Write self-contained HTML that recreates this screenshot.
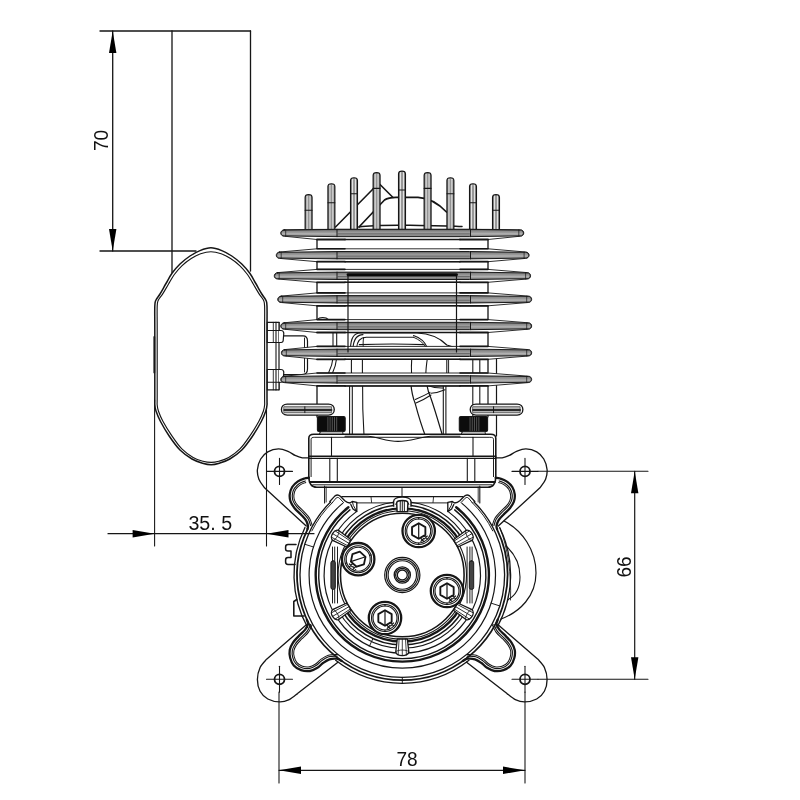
<!DOCTYPE html>
<html><head><meta charset="utf-8"><title>Engine drawing</title>
<style>
html,body{margin:0;padding:0;background:#fff;}
body{width:800px;height:800px;overflow:hidden;}
svg{display:block;font-family:"Liberation Sans",sans-serif;}
</style></head>
<body>
<svg width="800" height="800" viewBox="0 0 800 800" stroke-linecap="round" stroke-linejoin="round">
<rect x="0" y="0" width="800" height="800" fill="#fff"/>
<line x1="100.00" y1="31.00" x2="250.50" y2="31.00" stroke="#161616" stroke-width="1.32" />
<line x1="172.00" y1="31.00" x2="172.00" y2="272.50" stroke="#161616" stroke-width="1.32" />
<line x1="250.50" y1="31.00" x2="250.50" y2="271.00" stroke="#161616" stroke-width="1.32" />
<line x1="112.70" y1="31.00" x2="112.70" y2="251.00" stroke="#161616" stroke-width="1.32" />
<line x1="100.00" y1="251.00" x2="196.00" y2="251.00" stroke="#161616" stroke-width="1.32" />
<polygon points="112.70,31.00 116.40,53.00 109.00,53.00" fill="#000"/>
<polygon points="112.70,251.00 109.00,229.00 116.40,229.00" fill="#000"/>
<g filter="url(#gs)"><text transform="translate(108.00,140.50) rotate(-90) scale(0.93,1)" x="0" y="0" font-size="20.5" text-anchor="middle" fill="#111">70</text></g>
<path d="M154.80,330.00 C154.80,315.17 154.60,311.00 154.80,306.00 C155.00,301.00 155.13,302.00 156.00,300.00 C156.87,298.00 158.33,296.75 160.00,294.00 C161.67,291.25 164.00,286.95 166.00,283.50 C168.00,280.05 169.67,276.55 172.00,273.30 C174.33,270.05 177.00,266.88 180.00,264.00 C183.00,261.12 186.67,258.23 190.00,256.00 C193.33,253.77 196.52,251.97 200.00,250.60 C203.48,249.23 207.27,247.80 210.90,247.80 C214.53,247.80 218.32,249.23 221.80,250.60 C225.28,251.97 228.47,253.77 231.80,256.00 C235.13,258.23 238.80,261.12 241.80,264.00 C244.80,266.88 247.47,270.05 249.80,273.30 C252.13,276.55 253.80,280.05 255.80,283.50 C257.80,286.95 260.13,291.25 261.80,294.00 C263.47,296.75 264.93,298.00 265.80,300.00 C266.67,302.00 266.80,301.00 267.00,306.00 C267.20,311.00 267.00,315.17 267.00,330.00 C267.00,344.83 267.00,382.50 267.00,395.00 C267.00,407.50 267.20,402.33 267.00,405.00 C266.80,407.67 266.75,408.25 265.80,411.00 C264.85,413.75 263.55,417.25 261.30,421.50 C259.05,425.75 255.55,431.75 252.30,436.50 C249.05,441.25 245.55,446.25 241.80,450.00 C238.05,453.75 233.55,456.80 229.80,459.00 C226.05,461.20 222.40,462.25 219.30,463.20 C216.20,464.15 214.00,464.70 211.20,464.70 C208.40,464.70 205.70,464.15 202.50,463.20 C199.30,462.25 195.75,461.20 192.00,459.00 C188.25,456.80 183.75,453.75 180.00,450.00 C176.25,446.25 172.75,441.25 169.50,436.50 C166.25,431.75 162.75,425.75 160.50,421.50 C158.25,417.25 156.95,413.75 156.00,411.00 C155.05,408.25 155.00,407.67 154.80,405.00 C154.60,402.33 154.80,407.50 154.80,395.00 C154.80,382.50 154.80,344.83 154.80,330.00 Z" stroke="#161616" stroke-width="1.50" fill="#fff" />
<line x1="154.30" y1="337.00" x2="154.30" y2="372.50" stroke="#161616" stroke-width="1.80" />
<path d="M157.20,330.00 C157.20,315.17 157.00,310.99 157.20,306.00 C157.40,301.01 157.53,302.02 158.40,300.08 C159.27,298.14 160.73,297.00 162.40,294.36 C164.07,291.73 166.41,287.60 168.40,284.29 C170.39,280.99 172.09,277.60 174.33,274.52 C176.58,271.44 179.03,268.46 181.85,265.79 C184.67,263.12 188.12,260.50 191.25,258.51 C194.39,256.51 197.38,254.94 200.65,253.82 C203.93,252.70 207.48,251.80 210.90,251.80 C214.32,251.80 217.87,252.70 221.15,253.82 C224.42,254.94 227.41,256.51 230.55,258.51 C233.68,260.50 237.13,263.12 239.95,265.79 C242.77,268.46 245.22,271.44 247.47,274.52 C249.71,277.60 251.41,280.99 253.40,284.29 C255.39,287.60 257.73,291.73 259.40,294.36 C261.07,297.00 262.53,298.14 263.40,300.08 C264.27,302.02 264.40,301.01 264.60,306.00 C264.80,310.99 264.60,315.17 264.60,330.00 C264.60,344.83 264.60,382.50 264.60,395.00 C264.60,407.50 264.80,402.34 264.60,405.00 C264.40,407.66 264.35,408.24 263.40,410.95 C262.45,413.67 261.15,417.11 258.90,421.27 C256.65,425.43 253.06,431.28 249.90,435.90 C246.74,440.52 243.49,445.37 239.95,448.97 C236.41,452.57 232.19,455.43 228.67,457.48 C225.14,459.52 221.71,460.42 218.80,461.25 C215.89,462.07 213.83,462.41 211.20,462.41 C208.57,462.41 206.01,462.07 203.00,461.25 C199.99,460.42 196.66,459.52 193.13,457.48 C189.61,455.43 185.39,452.57 181.85,448.97 C178.31,445.37 175.06,440.52 171.90,435.90 C168.74,431.28 165.15,425.43 162.90,421.27 C160.65,417.11 159.35,413.67 158.40,410.95 C157.45,408.24 157.40,407.66 157.20,405.00 C157.00,402.34 157.20,407.50 157.20,395.00 C157.20,382.50 157.20,344.83 157.20,330.00 Z" stroke="#161616" stroke-width="1.14" fill="none" />
<line x1="276.00" y1="322.30" x2="276.00" y2="389.80" stroke="#161616" stroke-width="1.08" />
<line x1="279.00" y1="322.30" x2="279.00" y2="389.80" stroke="#161616" stroke-width="1.20" />
<path d="M267.3,322.3 L279,322.3 L279,342.5 L267.3,342.5 Z" stroke="#161616" stroke-width="1.20" fill="#fff" />
<line x1="267.30" y1="330.50" x2="279.00" y2="330.50" stroke="#161616" stroke-width="1.08" />
<line x1="276.00" y1="322.30" x2="276.00" y2="342.50" stroke="#161616" stroke-width="1.08" />
<line x1="273.30" y1="322.30" x2="273.30" y2="342.50" stroke="#161616" stroke-width="0.84" />
<path d="M279,330.5 L281,330.5 C284,330.5 284,333.5 283.6,335.5 L283.2,340.5 C283,342.5 282,342.5 279,342.5" stroke="#161616" stroke-width="1.20" fill="#fff" />
<path d="M267.3,369.5 L279,369.5 L279,389.8 L267.3,389.8 Z" stroke="#161616" stroke-width="1.20" fill="#fff" />
<line x1="267.30" y1="382.30" x2="279.00" y2="382.30" stroke="#161616" stroke-width="1.08" />
<line x1="276.00" y1="369.50" x2="276.00" y2="389.80" stroke="#161616" stroke-width="1.08" />
<line x1="273.30" y1="369.50" x2="273.30" y2="389.80" stroke="#161616" stroke-width="0.84" />
<path d="M279,369.5 L281,369.5 C284,369.5 284,372.5 283.6,374.5 L283.2,380.3 C283,382.3 282,382.3 279,382.3" stroke="#161616" stroke-width="1.20" fill="#fff" />
<path d="M359,227 L384.5,200 C388,197.5 392,197.3 396,197.3 L418,197.3 C430,198 440,205 446.5,212" stroke="#161616" stroke-width="1.68" fill="none" />
<path d="M335.5,227 L374,188" stroke="#161616" stroke-width="1.56" fill="none" />
<path d="M380,184.5 L393,197.5" stroke="#161616" stroke-width="1.56" fill="none" />
<path d="M359,227 C372,225 392,225.1 410,225.3 C430,225.5 450,225.5 462,226.5" stroke="#161616" stroke-width="1.50" fill="none" />
<defs><filter id="gs" x="-20%" y="-20%" width="140%" height="140%" color-interpolation-filters="sRGB"><feColorMatrix type="saturate" values="0"/></filter><linearGradient id="pg" x1="0" x2="1" y1="0" y2="0"><stop offset="0" stop-color="#555"/><stop offset="0.15" stop-color="#9c9c9c"/><stop offset="0.5" stop-color="#c6c6c6"/><stop offset="0.85" stop-color="#9c9c9c"/><stop offset="1" stop-color="#555"/></linearGradient><linearGradient id="fg" x1="0" x2="0" y1="0" y2="1"><stop offset="0" stop-color="#4a4a4a"/><stop offset="0.2" stop-color="#868686"/><stop offset="0.45" stop-color="#9c9c9c"/><stop offset="0.62" stop-color="#b4b4b4"/><stop offset="0.84" stop-color="#8c8c8c"/><stop offset="1" stop-color="#4a4a4a"/></linearGradient></defs>
<path d="M305.15000000000003,230.5 L305.15000000000003,197.4 C305.15000000000003,193.6 312.05,193.6 312.05,197.4 L312.05,230.5 Z" stroke="#161616" stroke-width="1.20" fill="#939393" />
<line x1="307.15" y1="196.00" x2="307.15" y2="230.50" stroke="#e6e6e6" stroke-width="1.02" />
<line x1="310.05" y1="196.00" x2="310.05" y2="230.50" stroke="#e6e6e6" stroke-width="1.02" />
<line x1="305.15" y1="210.20" x2="312.05" y2="210.20" stroke="#161616" stroke-width="1.08" />
<path d="M327.95,230.5 L327.95,186.6 C327.95,182.79999999999998 334.84999999999997,182.79999999999998 334.84999999999997,186.6 L334.84999999999997,230.5 Z" stroke="#161616" stroke-width="1.20" fill="#939393" />
<line x1="329.95" y1="185.20" x2="329.95" y2="230.50" stroke="#e6e6e6" stroke-width="1.02" />
<line x1="332.85" y1="185.20" x2="332.85" y2="230.50" stroke="#e6e6e6" stroke-width="1.02" />
<line x1="327.95" y1="202.80" x2="334.85" y2="202.80" stroke="#161616" stroke-width="1.08" />
<path d="M350.55,230.5 L350.55,180.6 C350.55,176.79999999999998 357.45,176.79999999999998 357.45,180.6 L357.45,230.5 Z" stroke="#161616" stroke-width="1.20" fill="#939393" />
<line x1="352.55" y1="179.20" x2="352.55" y2="230.50" stroke="#e6e6e6" stroke-width="1.02" />
<line x1="355.45" y1="179.20" x2="355.45" y2="230.50" stroke="#e6e6e6" stroke-width="1.02" />
<line x1="350.55" y1="193.80" x2="357.45" y2="193.80" stroke="#161616" stroke-width="1.08" />
<path d="M373.15000000000003,230.5 L373.15000000000003,175.4 C373.15000000000003,171.6 380.05,171.6 380.05,175.4 L380.05,230.5 Z" stroke="#161616" stroke-width="1.20" fill="#939393" />
<line x1="375.15" y1="174.00" x2="375.15" y2="230.50" stroke="#e6e6e6" stroke-width="1.02" />
<line x1="378.05" y1="174.00" x2="378.05" y2="230.50" stroke="#e6e6e6" stroke-width="1.02" />
<line x1="373.15" y1="188.40" x2="380.05" y2="188.40" stroke="#161616" stroke-width="1.08" />
<path d="M398.55,230.5 L398.55,174 C398.55,170.2 405.45,170.2 405.45,174 L405.45,230.5 Z" stroke="#161616" stroke-width="1.20" fill="#939393" />
<line x1="400.55" y1="172.60" x2="400.55" y2="230.50" stroke="#e6e6e6" stroke-width="1.02" />
<line x1="403.45" y1="172.60" x2="403.45" y2="230.50" stroke="#e6e6e6" stroke-width="1.02" />
<line x1="398.55" y1="190.00" x2="405.45" y2="190.00" stroke="#161616" stroke-width="1.08" />
<path d="M424.15000000000003,230.5 L424.15000000000003,175.4 C424.15000000000003,171.6 431.05,171.6 431.05,175.4 L431.05,230.5 Z" stroke="#161616" stroke-width="1.20" fill="#939393" />
<line x1="426.15" y1="174.00" x2="426.15" y2="230.50" stroke="#e6e6e6" stroke-width="1.02" />
<line x1="429.05" y1="174.00" x2="429.05" y2="230.50" stroke="#e6e6e6" stroke-width="1.02" />
<line x1="424.15" y1="188.40" x2="431.05" y2="188.40" stroke="#161616" stroke-width="1.08" />
<path d="M446.95,230.5 L446.95,180.6 C446.95,176.79999999999998 453.84999999999997,176.79999999999998 453.84999999999997,180.6 L453.84999999999997,230.5 Z" stroke="#161616" stroke-width="1.20" fill="#939393" />
<line x1="448.95" y1="179.20" x2="448.95" y2="230.50" stroke="#e6e6e6" stroke-width="1.02" />
<line x1="451.85" y1="179.20" x2="451.85" y2="230.50" stroke="#e6e6e6" stroke-width="1.02" />
<line x1="446.95" y1="193.80" x2="453.85" y2="193.80" stroke="#161616" stroke-width="1.08" />
<path d="M469.55,230.5 L469.55,186.6 C469.55,182.79999999999998 476.45,182.79999999999998 476.45,186.6 L476.45,230.5 Z" stroke="#161616" stroke-width="1.20" fill="#939393" />
<line x1="471.55" y1="185.20" x2="471.55" y2="230.50" stroke="#e6e6e6" stroke-width="1.02" />
<line x1="474.45" y1="185.20" x2="474.45" y2="230.50" stroke="#e6e6e6" stroke-width="1.02" />
<line x1="469.55" y1="202.80" x2="476.45" y2="202.80" stroke="#161616" stroke-width="1.08" />
<path d="M492.55,230.5 L492.55,197.4 C492.55,193.6 499.45,193.6 499.45,197.4 L499.45,230.5 Z" stroke="#161616" stroke-width="1.20" fill="#939393" />
<line x1="494.55" y1="196.00" x2="494.55" y2="230.50" stroke="#e6e6e6" stroke-width="1.02" />
<line x1="497.45" y1="196.00" x2="497.45" y2="230.50" stroke="#e6e6e6" stroke-width="1.02" />
<line x1="492.55" y1="210.20" x2="499.45" y2="210.20" stroke="#161616" stroke-width="1.08" />
<line x1="317.00" y1="236.00" x2="317.00" y2="322.00" stroke="#161616" stroke-width="1.32" />
<line x1="488.00" y1="236.00" x2="488.00" y2="372.00" stroke="#161616" stroke-width="1.32" />
<line x1="317.00" y1="384.00" x2="317.00" y2="417.00" stroke="#161616" stroke-width="1.32" />
<path d="M283.5,335.8 L303,335.8 C306.5,335.8 307.5,337.5 307.5,341 L307.5,369 C307.5,373 306,374.5 302,374.7 L284,374.7" stroke="#161616" stroke-width="1.20" fill="none" />
<line x1="304.50" y1="338.00" x2="304.50" y2="372.00" stroke="#161616" stroke-width="0.96" />
<line x1="333.00" y1="331.00" x2="333.00" y2="347.00" stroke="#161616" stroke-width="1.08" />
<line x1="336.70" y1="331.00" x2="336.70" y2="347.00" stroke="#161616" stroke-width="1.08" />
<path d="M333,358 C332.5,364 330.5,369 328.5,373" stroke="#161616" stroke-width="1.08" fill="none" />
<path d="M336.7,358 C336,364 334.5,369 332.5,373" stroke="#161616" stroke-width="1.08" fill="none" />
<path d="M318,319.5 C319,316.8 326,316.8 328.5,319.5" stroke="#161616" stroke-width="1.08" fill="none" />
<path d="M350.5,348 C350.8,340 353,333 360,333 L417,333 C430,333.5 440,338 446.8,345 L455,347.5" stroke="#161616" stroke-width="1.20" fill="none" />
<path d="M353,348 C353.5,341 356,334.8 363,334.6" stroke="#161616" stroke-width="1.08" fill="none" />
<path d="M356.6,348 C357,342 360,337.4 366.3,337.2 L413.5,337.2" stroke="#161616" stroke-width="1.08" fill="none" />
<path d="M363.6,337.5 C363,341 363,345 363.4,348" stroke="#161616" stroke-width="0.96" fill="none" />
<path d="M359.3,344.6 C380,343.8 405,343.8 424,344.6" stroke="#161616" stroke-width="1.08" fill="none" />
<path d="M413.5,335.5 C420,337.5 425,342 427.5,348" stroke="#161616" stroke-width="1.08" fill="none" />
<path d="M413.5,337.2 C419,339.5 423.5,343 425.8,347" stroke="#161616" stroke-width="0.96" fill="none" />
<line x1="350.50" y1="349.20" x2="455.00" y2="349.20" stroke="#161616" stroke-width="1.92" />
<path d="M353.5,357.4 L446,357.4 M353.5,375.8 L446,375.8" stroke="#161616" stroke-width="1.08" fill="none" />
<path d="M353.5,357.4 C351.5,358 351.4,359.5 351.4,361 L351.4,372 C351.4,374.5 351.6,375.3 353.5,375.8" stroke="#161616" stroke-width="1.08" fill="none" />
<line x1="362.40" y1="357.40" x2="362.40" y2="375.80" stroke="#161616" stroke-width="1.08" />
<path d="M411.8,357.4 C411.3,364 411.3,370 411.6,375.8" stroke="#161616" stroke-width="1.08" fill="none" />
<path d="M427.5,357.4 C426.5,364 425.8,370 425.8,375.8" stroke="#161616" stroke-width="1.08" fill="none" />
<line x1="446.80" y1="357.40" x2="446.80" y2="375.80" stroke="#161616" stroke-width="1.08" />
<line x1="448.60" y1="357.40" x2="448.60" y2="375.80" stroke="#161616" stroke-width="0.96" />
<line x1="472.80" y1="358.00" x2="472.80" y2="436.00" stroke="#161616" stroke-width="1.08" />
<line x1="479.80" y1="358.00" x2="479.80" y2="404.00" stroke="#161616" stroke-width="1.08" />
<line x1="496.50" y1="358.00" x2="496.50" y2="436.00" stroke="#161616" stroke-width="1.20" />
<line x1="488.00" y1="384.00" x2="488.00" y2="417.00" stroke="#161616" stroke-width="1.20" />
<line x1="349.60" y1="385.00" x2="349.60" y2="435.50" stroke="#161616" stroke-width="1.08" />
<line x1="352.30" y1="386.00" x2="352.30" y2="435.50" stroke="#161616" stroke-width="1.08" />
<path d="M362.6,384 C362.4,400 363,420 364,435.3" stroke="#161616" stroke-width="1.08" fill="none" />
<path d="M410.9,383.6 C411.5,392 413,398 415.3,403.8 C418,414 422,427 425.8,437" stroke="#161616" stroke-width="1.20" fill="none" />
<path d="M426.6,383.6 C427.5,389 429,394 431,398.5 C435,410 439,424 442.4,435.3" stroke="#161616" stroke-width="1.20" fill="none" />
<path d="M415.3,399.4 C420,397.5 425.5,395 430,392.4" stroke="#161616" stroke-width="1.08" fill="none" />
<path d="M416,403 C421,401 426.5,398 431,395" stroke="#161616" stroke-width="1.08" fill="none" />
<path d="M427.5,385.4 C433,387.5 438,388.2 443.3,388" stroke="#161616" stroke-width="1.08" fill="none" />
<path d="M431,393.3 C436,393 441,391.5 445,389.8" stroke="#161616" stroke-width="1.08" fill="none" />
<line x1="443.30" y1="384.00" x2="443.30" y2="435.30" stroke="#161616" stroke-width="1.08" />
<line x1="445.90" y1="384.00" x2="445.90" y2="435.30" stroke="#161616" stroke-width="1.08" />
<path d="M284.2,229.8 L317.0,229.4 L488.0,229.4 L520.3,229.8 C524.94,229.8 524.94,236.2 520.3,236.2 L488.0,239.5 L317.0,239.5 L284.2,236.2 C279.56,236.2 279.56,229.8 284.2,229.8 Z" stroke="#161616" stroke-width="0.90" fill="#fff" />
<line x1="317.00" y1="239.50" x2="345.00" y2="239.50" stroke="#161616" stroke-width="1.80" />
<line x1="460.00" y1="239.50" x2="488.00" y2="239.50" stroke="#161616" stroke-width="1.80" />
<line x1="345.00" y1="239.50" x2="460.00" y2="239.50" stroke="#161616" stroke-width="1.50" />
<path d="M284.2,230.10000000000002 L338,229.3 L469.5,229.3 L520.3,230.10000000000002 C524.46,230.10000000000002 524.46,235.89999999999998 520.3,235.89999999999998 L469.5,236.7 L338,236.7 L284.2,235.89999999999998 C280.04,235.89999999999998 280.04,230.10000000000002 284.2,230.10000000000002 Z" stroke="#161616" stroke-width="0.96" fill="url(#fg)" />
<line x1="338.00" y1="233.90" x2="469.50" y2="233.90" stroke="#4a4a4a" stroke-width="0.84" />
<line x1="285.70" y1="229.80" x2="285.70" y2="236.20" stroke="#161616" stroke-width="0.72" />
<line x1="518.80" y1="229.80" x2="518.80" y2="236.20" stroke="#161616" stroke-width="0.72" />
<line x1="337.00" y1="229.30" x2="337.00" y2="236.70" stroke="#161616" stroke-width="0.96" />
<line x1="470.50" y1="229.30" x2="470.50" y2="236.70" stroke="#161616" stroke-width="0.96" />
<path d="M279.7,252.0 L317.0,248.79999999999998 L488.0,248.79999999999998 L525.5999999999999,252.0 C530.24,252.0 530.24,258.4 525.5999999999999,258.4 L488.0,261.7 L317.0,261.7 L279.7,258.4 C275.06,258.4 275.06,252.0 279.7,252.0 Z" stroke="#161616" stroke-width="0.90" fill="#fff" />
<line x1="317.00" y1="248.80" x2="345.00" y2="248.80" stroke="#161616" stroke-width="1.56" />
<line x1="460.00" y1="248.80" x2="488.00" y2="248.80" stroke="#161616" stroke-width="1.56" />
<line x1="317.00" y1="261.70" x2="345.00" y2="261.70" stroke="#161616" stroke-width="1.80" />
<line x1="460.00" y1="261.70" x2="488.00" y2="261.70" stroke="#161616" stroke-width="1.80" />
<line x1="345.00" y1="261.70" x2="460.00" y2="261.70" stroke="#161616" stroke-width="1.50" />
<path d="M279.7,252.3 L338,251.5 L469.5,251.5 L525.5999999999999,252.3 C529.76,252.3 529.76,258.09999999999997 525.5999999999999,258.09999999999997 L469.5,258.9 L338,258.9 L279.7,258.09999999999997 C275.54,258.09999999999997 275.54,252.3 279.7,252.3 Z" stroke="#161616" stroke-width="0.96" fill="url(#fg)" />
<line x1="338.00" y1="256.10" x2="469.50" y2="256.10" stroke="#4a4a4a" stroke-width="0.84" />
<line x1="281.20" y1="252.00" x2="281.20" y2="258.40" stroke="#161616" stroke-width="0.72" />
<line x1="524.10" y1="252.00" x2="524.10" y2="258.40" stroke="#161616" stroke-width="0.72" />
<line x1="337.00" y1="251.50" x2="337.00" y2="258.90" stroke="#161616" stroke-width="0.96" />
<line x1="470.50" y1="251.50" x2="470.50" y2="258.90" stroke="#161616" stroke-width="0.96" />
<path d="M277.7,272.6 L317.0,269.40000000000003 L488.0,269.40000000000003 L527.0999999999999,272.6 C531.74,272.6 531.74,279.0 527.0999999999999,279.0 L488.0,282.3 L317.0,282.3 L277.7,279.0 C273.06,279.0 273.06,272.6 277.7,272.6 Z" stroke="#161616" stroke-width="0.90" fill="#fff" />
<line x1="317.00" y1="269.40" x2="345.00" y2="269.40" stroke="#161616" stroke-width="1.56" />
<line x1="460.00" y1="269.40" x2="488.00" y2="269.40" stroke="#161616" stroke-width="1.56" />
<line x1="317.00" y1="282.30" x2="345.00" y2="282.30" stroke="#161616" stroke-width="1.80" />
<line x1="460.00" y1="282.30" x2="488.00" y2="282.30" stroke="#161616" stroke-width="1.80" />
<line x1="345.00" y1="282.30" x2="460.00" y2="282.30" stroke="#161616" stroke-width="1.50" />
<path d="M277.7,272.90000000000003 L338,272.1 L469.5,272.1 L527.0999999999999,272.90000000000003 C531.26,272.90000000000003 531.26,278.7 527.0999999999999,278.7 L469.5,279.5 L338,279.5 L277.7,278.7 C273.54,278.7 273.54,272.90000000000003 277.7,272.90000000000003 Z" stroke="#161616" stroke-width="0.96" fill="url(#fg)" />
<line x1="338.00" y1="276.70" x2="469.50" y2="276.70" stroke="#4a4a4a" stroke-width="0.84" />
<line x1="279.20" y1="272.60" x2="279.20" y2="279.00" stroke="#161616" stroke-width="0.72" />
<line x1="525.60" y1="272.60" x2="525.60" y2="279.00" stroke="#161616" stroke-width="0.72" />
<line x1="337.00" y1="272.10" x2="337.00" y2="279.50" stroke="#161616" stroke-width="0.96" />
<line x1="470.50" y1="272.10" x2="470.50" y2="279.50" stroke="#161616" stroke-width="0.96" />
<path d="M281.2,296.1 L317.0,292.90000000000003 L488.0,292.90000000000003 L528.1999999999999,296.1 C532.84,296.1 532.84,302.5 528.1999999999999,302.5 L488.0,305.8 L317.0,305.8 L281.2,302.5 C276.56,302.5 276.56,296.1 281.2,296.1 Z" stroke="#161616" stroke-width="0.90" fill="#fff" />
<line x1="317.00" y1="292.90" x2="345.00" y2="292.90" stroke="#161616" stroke-width="1.56" />
<line x1="460.00" y1="292.90" x2="488.00" y2="292.90" stroke="#161616" stroke-width="1.56" />
<line x1="317.00" y1="305.80" x2="345.00" y2="305.80" stroke="#161616" stroke-width="1.80" />
<line x1="460.00" y1="305.80" x2="488.00" y2="305.80" stroke="#161616" stroke-width="1.80" />
<line x1="345.00" y1="305.80" x2="460.00" y2="305.80" stroke="#161616" stroke-width="1.50" />
<path d="M281.2,296.40000000000003 L338,295.6 L469.5,295.6 L528.1999999999999,296.40000000000003 C532.36,296.40000000000003 532.36,302.2 528.1999999999999,302.2 L469.5,303.0 L338,303.0 L281.2,302.2 C277.04,302.2 277.04,296.40000000000003 281.2,296.40000000000003 Z" stroke="#161616" stroke-width="0.96" fill="url(#fg)" />
<line x1="338.00" y1="300.20" x2="469.50" y2="300.20" stroke="#4a4a4a" stroke-width="0.84" />
<line x1="282.70" y1="296.10" x2="282.70" y2="302.50" stroke="#161616" stroke-width="0.72" />
<line x1="526.70" y1="296.10" x2="526.70" y2="302.50" stroke="#161616" stroke-width="0.72" />
<line x1="337.00" y1="295.60" x2="337.00" y2="303.00" stroke="#161616" stroke-width="0.96" />
<line x1="470.50" y1="295.60" x2="470.50" y2="303.00" stroke="#161616" stroke-width="0.96" />
<path d="M284.2,322.8 L317.0,319.6 L488.0,319.6 L528.1999999999999,322.8 C532.84,322.8 532.84,329.2 528.1999999999999,329.2 L488.0,332.5 L317.0,332.5 L284.2,329.2 C279.56,329.2 279.56,322.8 284.2,322.8 Z" stroke="#161616" stroke-width="0.90" fill="#fff" />
<line x1="317.00" y1="319.60" x2="345.00" y2="319.60" stroke="#161616" stroke-width="1.56" />
<line x1="460.00" y1="319.60" x2="488.00" y2="319.60" stroke="#161616" stroke-width="1.56" />
<line x1="317.00" y1="332.50" x2="345.00" y2="332.50" stroke="#161616" stroke-width="1.80" />
<line x1="460.00" y1="332.50" x2="488.00" y2="332.50" stroke="#161616" stroke-width="1.80" />
<line x1="345.00" y1="332.50" x2="460.00" y2="332.50" stroke="#161616" stroke-width="1.50" />
<path d="M284.2,323.1 L338,322.3 L469.5,322.3 L528.1999999999999,323.1 C532.36,323.1 532.36,328.9 528.1999999999999,328.9 L469.5,329.7 L338,329.7 L284.2,328.9 C280.04,328.9 280.04,323.1 284.2,323.1 Z" stroke="#161616" stroke-width="0.96" fill="url(#fg)" />
<line x1="338.00" y1="326.90" x2="469.50" y2="326.90" stroke="#4a4a4a" stroke-width="0.84" />
<line x1="285.70" y1="322.80" x2="285.70" y2="329.20" stroke="#161616" stroke-width="0.72" />
<line x1="526.70" y1="322.80" x2="526.70" y2="329.20" stroke="#161616" stroke-width="0.72" />
<line x1="337.00" y1="322.30" x2="337.00" y2="329.70" stroke="#161616" stroke-width="0.96" />
<line x1="470.50" y1="322.30" x2="470.50" y2="329.70" stroke="#161616" stroke-width="0.96" />
<path d="M284.8,349.6 L317.0,346.40000000000003 L488.0,346.40000000000003 L528.1999999999999,349.6 C532.84,349.6 532.84,356.0 528.1999999999999,356.0 L488.0,359.3 L317.0,359.3 L284.8,356.0 C280.16,356.0 280.16,349.6 284.8,349.6 Z" stroke="#161616" stroke-width="0.90" fill="#fff" />
<line x1="317.00" y1="346.40" x2="345.00" y2="346.40" stroke="#161616" stroke-width="1.56" />
<line x1="460.00" y1="346.40" x2="488.00" y2="346.40" stroke="#161616" stroke-width="1.56" />
<line x1="317.00" y1="359.30" x2="345.00" y2="359.30" stroke="#161616" stroke-width="1.80" />
<line x1="460.00" y1="359.30" x2="488.00" y2="359.30" stroke="#161616" stroke-width="1.80" />
<line x1="345.00" y1="359.30" x2="460.00" y2="359.30" stroke="#161616" stroke-width="1.50" />
<path d="M284.8,349.90000000000003 L338,349.1 L469.5,349.1 L528.1999999999999,349.90000000000003 C532.36,349.90000000000003 532.36,355.7 528.1999999999999,355.7 L469.5,356.5 L338,356.5 L284.8,355.7 C280.64000000000004,355.7 280.64000000000004,349.90000000000003 284.8,349.90000000000003 Z" stroke="#161616" stroke-width="0.96" fill="url(#fg)" />
<line x1="338.00" y1="353.70" x2="469.50" y2="353.70" stroke="#4a4a4a" stroke-width="0.84" />
<line x1="286.30" y1="349.60" x2="286.30" y2="356.00" stroke="#161616" stroke-width="0.72" />
<line x1="526.70" y1="349.60" x2="526.70" y2="356.00" stroke="#161616" stroke-width="0.72" />
<line x1="337.00" y1="349.10" x2="337.00" y2="356.50" stroke="#161616" stroke-width="0.96" />
<line x1="470.50" y1="349.10" x2="470.50" y2="356.50" stroke="#161616" stroke-width="0.96" />
<path d="M284.2,376.2 L317.0,373.0 L488.0,373.0 L528.1999999999999,376.2 C532.84,376.2 532.84,382.59999999999997 528.1999999999999,382.59999999999997 L488.0,385.9 L317.0,385.9 L284.2,382.59999999999997 C279.56,382.59999999999997 279.56,376.2 284.2,376.2 Z" stroke="#161616" stroke-width="0.90" fill="#fff" />
<line x1="317.00" y1="373.00" x2="345.00" y2="373.00" stroke="#161616" stroke-width="1.56" />
<line x1="460.00" y1="373.00" x2="488.00" y2="373.00" stroke="#161616" stroke-width="1.56" />
<line x1="317.00" y1="385.90" x2="345.00" y2="385.90" stroke="#161616" stroke-width="1.80" />
<line x1="460.00" y1="385.90" x2="488.00" y2="385.90" stroke="#161616" stroke-width="1.80" />
<line x1="345.00" y1="385.90" x2="460.00" y2="385.90" stroke="#161616" stroke-width="1.50" />
<path d="M284.2,376.5 L338,375.7 L469.5,375.7 L528.1999999999999,376.5 C532.36,376.5 532.36,382.29999999999995 528.1999999999999,382.29999999999995 L469.5,383.09999999999997 L338,383.09999999999997 L284.2,382.29999999999995 C280.04,382.29999999999995 280.04,376.5 284.2,376.5 Z" stroke="#161616" stroke-width="0.96" fill="url(#fg)" />
<line x1="338.00" y1="380.30" x2="469.50" y2="380.30" stroke="#4a4a4a" stroke-width="0.84" />
<line x1="285.70" y1="376.20" x2="285.70" y2="382.60" stroke="#161616" stroke-width="0.72" />
<line x1="526.70" y1="376.20" x2="526.70" y2="382.60" stroke="#161616" stroke-width="0.72" />
<line x1="337.00" y1="375.70" x2="337.00" y2="383.10" stroke="#161616" stroke-width="0.96" />
<line x1="470.50" y1="375.70" x2="470.50" y2="383.10" stroke="#161616" stroke-width="0.96" />
<path d="M287.2,404.1 L328.5,404.1 C336.2,404.1 336.2,415.1 328.5,415.1 L287.2,415.1 C279.5,415.1 279.5,404.1 287.2,404.1 Z" stroke="#161616" stroke-width="1.32" fill="#f4f4f4" />
<path d="M284.2,406.70000000000005 L331.5,406.70000000000005 L331.5,412.70000000000005 L284.2,412.70000000000005 Z" stroke="#555" stroke-width="0.84" fill="#b4b4b4" />
<line x1="284.20" y1="410.00" x2="331.50" y2="410.00" stroke="#2a2a2a" stroke-width="1.80" />
<line x1="304.85" y1="406.70" x2="304.85" y2="412.70" stroke="#161616" stroke-width="0.96" />
<path d="M476.0,404.1 L517.1,404.1 C524.8000000000001,404.1 524.8000000000001,415.1 517.1,415.1 L476.0,415.1 C468.3,415.1 468.3,404.1 476.0,404.1 Z" stroke="#161616" stroke-width="1.32" fill="#f4f4f4" />
<path d="M473.0,406.70000000000005 L520.1,406.70000000000005 L520.1,412.70000000000005 L473.0,412.70000000000005 Z" stroke="#555" stroke-width="0.84" fill="#b4b4b4" />
<line x1="473.00" y1="410.00" x2="520.10" y2="410.00" stroke="#2a2a2a" stroke-width="1.80" />
<line x1="493.55" y1="406.70" x2="493.55" y2="412.70" stroke="#161616" stroke-width="0.96" />
<line x1="348.00" y1="274.80" x2="456.50" y2="274.80" stroke="#0a0a0a" stroke-width="2.88" />
<line x1="348.00" y1="276.00" x2="348.00" y2="352.00" stroke="#161616" stroke-width="1.20" />
<line x1="456.50" y1="276.00" x2="456.50" y2="352.00" stroke="#161616" stroke-width="1.20" />
<rect x="317.40" y="416.50" width="27.80" height="15.00" rx="1.5" stroke="#161616" stroke-width="1.08" fill="#0c0c0c"/>
<line x1="327.90" y1="417.50" x2="327.90" y2="430.50" stroke="#707070" stroke-width="0.72" />
<line x1="330.10" y1="417.50" x2="330.10" y2="430.50" stroke="#707070" stroke-width="0.72" />
<line x1="332.30" y1="417.50" x2="332.30" y2="430.50" stroke="#707070" stroke-width="0.72" />
<line x1="334.50" y1="417.50" x2="334.50" y2="430.50" stroke="#707070" stroke-width="0.72" />
<line x1="336.70" y1="417.50" x2="336.70" y2="430.50" stroke="#707070" stroke-width="0.72" />
<rect x="319.70" y="431.80" width="23.20" height="3.20" rx="1" stroke="#161616" stroke-width="0.96" fill="#fff"/>
<rect x="459.30" y="416.50" width="28.30" height="15.00" rx="1.5" stroke="#161616" stroke-width="1.08" fill="#0c0c0c"/>
<line x1="470.05" y1="417.50" x2="470.05" y2="430.50" stroke="#707070" stroke-width="0.72" />
<line x1="472.25" y1="417.50" x2="472.25" y2="430.50" stroke="#707070" stroke-width="0.72" />
<line x1="474.45" y1="417.50" x2="474.45" y2="430.50" stroke="#707070" stroke-width="0.72" />
<line x1="476.65" y1="417.50" x2="476.65" y2="430.50" stroke="#707070" stroke-width="0.72" />
<line x1="478.85" y1="417.50" x2="478.85" y2="430.50" stroke="#707070" stroke-width="0.72" />
<rect x="461.60" y="431.80" width="23.70" height="3.20" rx="1" stroke="#161616" stroke-width="0.96" fill="#fff"/>
<path d="M316.8,487.3 C311.3,487.3 308.8,483 308.8,476 L308.8,438.3 C308.8,435.3 310.3,434.3 313.8,434.3 L490.8,434.3 C494.3,434.3 495.8,435.3 495.8,438.3 L495.8,476 C495.8,483 493.3,487.3 487.8,487.3 Z" stroke="#161616" stroke-width="1.56" fill="#fff" />
<path d="M311.1,476.6 L311.1,439.3 C311.1,437.8 312.3,437.3 314.8,437.3 L489.8,437.3 C492.3,437.3 493.5,437.8 493.5,439.3 L493.5,476.6" stroke="#161616" stroke-width="0.96" fill="none" />
<path d="M345,436.3 L368,436.3 C378,436.8 386,441.4 398,441.4 C410,441.4 420,437 431,436.2 L460,436.2" stroke="#161616" stroke-width="1.08" fill="none" />
<line x1="308.80" y1="456.20" x2="495.80" y2="456.20" stroke="#161616" stroke-width="1.56" />
<line x1="308.80" y1="458.30" x2="495.80" y2="458.30" stroke="#161616" stroke-width="1.32" />
<line x1="309.80" y1="481.90" x2="494.80" y2="481.90" stroke="#161616" stroke-width="2.04" />
<line x1="312.80" y1="484.80" x2="491.80" y2="484.80" stroke="#161616" stroke-width="0.96" />
<line x1="329.80" y1="458.30" x2="329.80" y2="481.60" stroke="#161616" stroke-width="1.08" />
<line x1="337.30" y1="458.30" x2="337.30" y2="481.60" stroke="#161616" stroke-width="1.08" />
<line x1="467.30" y1="458.30" x2="467.30" y2="481.60" stroke="#161616" stroke-width="1.08" />
<line x1="474.80" y1="458.30" x2="474.80" y2="481.60" stroke="#161616" stroke-width="1.08" />
<line x1="331.50" y1="437.30" x2="331.50" y2="456.00" stroke="#161616" stroke-width="1.08" />
<line x1="473.00" y1="437.30" x2="473.00" y2="456.00" stroke="#161616" stroke-width="1.08" />
<path d="M504,521 C522,530 536,550 536,573 C536,596 520,612 501,619" stroke="#161616" stroke-width="1.20" fill="none" />
<path d="M506,546 C515,554 520,565 520,577 C520,588 515,596 507.5,600" stroke="#161616" stroke-width="1.08" fill="none" />
<g>
<path d="M308.80,457.80 C307.72,457.80 304.58,458.20 302.30,457.80 C300.02,457.40 297.48,456.48 295.10,455.40 C292.72,454.32 290.77,452.38 288.00,451.30 C285.23,450.22 281.87,448.80 278.50,448.90 C275.13,449.00 270.77,450.22 267.80,451.90 C264.83,453.58 262.43,456.03 260.70,459.00 C258.97,461.97 257.70,466.33 257.40,469.70 C257.10,473.07 257.76,476.23 258.90,479.20 C260.04,482.17 263.36,486.12 264.25,487.50  L306.2,526" stroke="#161616" stroke-width="1.32" fill="none" />
<path d="M306.4,624.75 L266.6,659.2 C265.52,660.58 261.63,664.13 260.10,667.50 C258.57,670.87 257.40,675.43 257.40,679.40 C257.40,683.37 258.37,688.03 260.10,691.30 C261.83,694.57 264.53,697.23 267.80,699.00 C271.07,700.77 276.13,701.80 279.70,701.90 C283.27,702.00 286.23,700.98 289.20,699.60 C292.17,698.22 296.12,694.60 297.50,693.60  L337.9,662.2" stroke="#161616" stroke-width="1.32" fill="none" />
<path d="M308.80,477.70 C308.07,477.83 306.22,477.88 304.40,478.50 C302.58,479.12 299.93,479.98 297.90,481.40 C295.87,482.82 293.56,484.83 292.20,487.00 C290.84,489.17 290.02,491.95 289.75,494.40 C289.48,496.85 289.79,499.40 290.60,501.70 C291.41,504.00 292.85,506.03 294.60,508.20 C296.35,510.37 299.20,512.67 301.10,514.70 C303.00,516.73 304.85,518.52 306.00,520.40 C307.15,522.28 307.77,524.57 308.00,526.00 C308.23,527.43 307.50,528.50 307.40,529.00 " stroke="#161616" stroke-width="2.28" fill="none" />
<path d="M305.24,480.96 C304.26,481.39 301.19,482.30 299.39,483.53 C297.58,484.77 295.58,486.52 294.40,488.38 C293.23,490.24 292.56,492.61 292.33,494.68 C292.11,496.76 292.34,498.86 293.05,500.84 C293.77,502.82 294.96,504.55 296.62,506.57 C298.28,508.58 301.07,510.85 303.00,512.92 C304.93,515.00 306.96,516.94 308.22,519.05 C309.48,521.15 310.18,524.49 310.57,525.58 " stroke="#161616" stroke-width="1.14" fill="none" />
<path d="M305.75,482.48 C304.84,482.87 301.97,483.72 300.30,484.85 C298.64,485.97 296.82,487.56 295.76,489.23 C294.70,490.90 294.12,493.01 293.93,494.85 C293.73,496.70 293.91,498.52 294.56,500.31 C295.22,502.09 296.27,503.64 297.87,505.56 C299.47,507.48 302.22,509.72 304.17,511.83 C306.12,513.94 308.26,515.96 309.58,518.21 C310.91,520.46 311.72,524.14 312.15,525.33 " stroke="#161616" stroke-width="1.02" fill="none" />
<path d="M306.80,619.90 C307.00,620.58 308.27,622.38 308.00,624.00 C307.73,625.62 306.75,627.58 305.20,629.60 C303.65,631.62 300.73,633.93 298.70,636.10 C296.67,638.27 294.49,640.28 293.00,642.60 C291.51,644.92 290.22,647.43 289.75,650.00 C289.28,652.57 289.52,655.43 290.20,658.00 C290.88,660.57 291.98,663.37 293.80,665.40 C295.62,667.43 298.40,669.27 301.10,670.20 C303.80,671.13 307.28,671.40 310.00,671.00 C312.72,670.60 315.23,669.13 317.40,667.80 C319.57,666.47 320.98,664.42 323.00,663.00 C325.02,661.58 327.18,660.02 329.50,659.30 C331.82,658.58 334.87,658.42 336.90,658.70 C338.93,658.98 340.90,660.62 341.70,661.00 " stroke="#161616" stroke-width="2.28" fill="none" />
<path d="M310.57,624.42 C310.01,625.55 308.92,628.94 307.26,631.18 C305.60,633.43 302.61,635.74 300.60,637.88 C298.58,640.02 296.57,641.91 295.19,644.01 C293.80,646.11 292.72,648.24 292.31,650.47 C291.90,652.69 292.14,655.14 292.71,657.34 C293.29,659.54 294.20,661.93 295.74,663.67 C297.28,665.40 299.64,666.95 301.95,667.74 C304.26,668.54 307.27,668.79 309.62,668.43 C311.97,668.07 314.06,666.84 316.04,665.59 C318.02,664.33 319.39,662.33 321.51,660.87 C323.62,659.41 326.11,657.61 328.73,656.82 C331.36,656.02 335.84,656.24 337.26,656.12 " stroke="#161616" stroke-width="1.14" fill="none" />
<path d="M312.14,624.68 C311.54,625.93 310.26,629.78 308.53,632.16 C306.80,634.54 303.76,636.86 301.76,638.97 C299.76,641.09 297.84,642.91 296.53,644.87 C295.22,646.84 294.26,648.74 293.88,650.75 C293.50,652.76 293.75,654.96 294.26,656.93 C294.77,658.91 295.56,661.05 296.93,662.60 C298.30,664.15 300.40,665.52 302.47,666.23 C304.55,666.94 307.27,667.18 309.39,666.84 C311.51,666.51 313.33,665.44 315.20,664.22 C317.07,663.01 318.41,661.05 320.59,659.56 C322.76,658.07 325.44,656.12 328.26,655.29 C331.07,654.45 335.94,654.66 337.48,654.54 " stroke="#161616" stroke-width="1.02" fill="none" />
</g>
<g transform="translate(804.5,0) scale(-1,1)">
<path d="M308.80,457.80 C307.72,457.80 304.58,458.20 302.30,457.80 C300.02,457.40 297.48,456.48 295.10,455.40 C292.72,454.32 290.77,452.38 288.00,451.30 C285.23,450.22 281.87,448.80 278.50,448.90 C275.13,449.00 270.77,450.22 267.80,451.90 C264.83,453.58 262.43,456.03 260.70,459.00 C258.97,461.97 257.70,466.33 257.40,469.70 C257.10,473.07 257.76,476.23 258.90,479.20 C260.04,482.17 263.36,486.12 264.25,487.50  L306.2,526" stroke="#161616" stroke-width="1.32" fill="none" />
<path d="M306.4,624.75 L266.6,659.2 C265.52,660.58 261.63,664.13 260.10,667.50 C258.57,670.87 257.40,675.43 257.40,679.40 C257.40,683.37 258.37,688.03 260.10,691.30 C261.83,694.57 264.53,697.23 267.80,699.00 C271.07,700.77 276.13,701.80 279.70,701.90 C283.27,702.00 286.23,700.98 289.20,699.60 C292.17,698.22 296.12,694.60 297.50,693.60  L337.9,662.2" stroke="#161616" stroke-width="1.32" fill="none" />
<path d="M308.80,477.70 C308.07,477.83 306.22,477.88 304.40,478.50 C302.58,479.12 299.93,479.98 297.90,481.40 C295.87,482.82 293.56,484.83 292.20,487.00 C290.84,489.17 290.02,491.95 289.75,494.40 C289.48,496.85 289.79,499.40 290.60,501.70 C291.41,504.00 292.85,506.03 294.60,508.20 C296.35,510.37 299.20,512.67 301.10,514.70 C303.00,516.73 304.85,518.52 306.00,520.40 C307.15,522.28 307.77,524.57 308.00,526.00 C308.23,527.43 307.50,528.50 307.40,529.00 " stroke="#161616" stroke-width="2.28" fill="none" />
<path d="M305.24,480.96 C304.26,481.39 301.19,482.30 299.39,483.53 C297.58,484.77 295.58,486.52 294.40,488.38 C293.23,490.24 292.56,492.61 292.33,494.68 C292.11,496.76 292.34,498.86 293.05,500.84 C293.77,502.82 294.96,504.55 296.62,506.57 C298.28,508.58 301.07,510.85 303.00,512.92 C304.93,515.00 306.96,516.94 308.22,519.05 C309.48,521.15 310.18,524.49 310.57,525.58 " stroke="#161616" stroke-width="1.14" fill="none" />
<path d="M305.75,482.48 C304.84,482.87 301.97,483.72 300.30,484.85 C298.64,485.97 296.82,487.56 295.76,489.23 C294.70,490.90 294.12,493.01 293.93,494.85 C293.73,496.70 293.91,498.52 294.56,500.31 C295.22,502.09 296.27,503.64 297.87,505.56 C299.47,507.48 302.22,509.72 304.17,511.83 C306.12,513.94 308.26,515.96 309.58,518.21 C310.91,520.46 311.72,524.14 312.15,525.33 " stroke="#161616" stroke-width="1.02" fill="none" />
<path d="M306.80,619.90 C307.00,620.58 308.27,622.38 308.00,624.00 C307.73,625.62 306.75,627.58 305.20,629.60 C303.65,631.62 300.73,633.93 298.70,636.10 C296.67,638.27 294.49,640.28 293.00,642.60 C291.51,644.92 290.22,647.43 289.75,650.00 C289.28,652.57 289.52,655.43 290.20,658.00 C290.88,660.57 291.98,663.37 293.80,665.40 C295.62,667.43 298.40,669.27 301.10,670.20 C303.80,671.13 307.28,671.40 310.00,671.00 C312.72,670.60 315.23,669.13 317.40,667.80 C319.57,666.47 320.98,664.42 323.00,663.00 C325.02,661.58 327.18,660.02 329.50,659.30 C331.82,658.58 334.87,658.42 336.90,658.70 C338.93,658.98 340.90,660.62 341.70,661.00 " stroke="#161616" stroke-width="2.28" fill="none" />
<path d="M310.57,624.42 C310.01,625.55 308.92,628.94 307.26,631.18 C305.60,633.43 302.61,635.74 300.60,637.88 C298.58,640.02 296.57,641.91 295.19,644.01 C293.80,646.11 292.72,648.24 292.31,650.47 C291.90,652.69 292.14,655.14 292.71,657.34 C293.29,659.54 294.20,661.93 295.74,663.67 C297.28,665.40 299.64,666.95 301.95,667.74 C304.26,668.54 307.27,668.79 309.62,668.43 C311.97,668.07 314.06,666.84 316.04,665.59 C318.02,664.33 319.39,662.33 321.51,660.87 C323.62,659.41 326.11,657.61 328.73,656.82 C331.36,656.02 335.84,656.24 337.26,656.12 " stroke="#161616" stroke-width="1.14" fill="none" />
<path d="M312.14,624.68 C311.54,625.93 310.26,629.78 308.53,632.16 C306.80,634.54 303.76,636.86 301.76,638.97 C299.76,641.09 297.84,642.91 296.53,644.87 C295.22,646.84 294.26,648.74 293.88,650.75 C293.50,652.76 293.75,654.96 294.26,656.93 C294.77,658.91 295.56,661.05 296.93,662.60 C298.30,664.15 300.40,665.52 302.47,666.23 C304.55,666.94 307.27,667.18 309.39,666.84 C311.51,666.51 313.33,665.44 315.20,664.22 C317.07,663.01 318.41,661.05 320.59,659.56 C322.76,658.07 325.44,656.12 328.26,655.29 C331.07,654.45 335.94,654.66 337.48,654.54 " stroke="#161616" stroke-width="1.02" fill="none" />
</g>
<circle cx="279.50" cy="471.40" r="5.00" stroke="#161616" stroke-width="1.80" fill="none"/>
<line x1="266.50" y1="471.40" x2="292.50" y2="471.40" stroke="#161616" stroke-width="1.08" />
<line x1="279.50" y1="458.40" x2="279.50" y2="484.40" stroke="#161616" stroke-width="1.08" />
<circle cx="525.00" cy="471.40" r="5.00" stroke="#161616" stroke-width="1.80" fill="none"/>
<line x1="512.00" y1="471.40" x2="538.00" y2="471.40" stroke="#161616" stroke-width="1.08" />
<line x1="525.00" y1="458.40" x2="525.00" y2="484.40" stroke="#161616" stroke-width="1.08" />
<circle cx="279.50" cy="679.30" r="5.00" stroke="#161616" stroke-width="1.80" fill="none"/>
<line x1="266.50" y1="679.30" x2="292.50" y2="679.30" stroke="#161616" stroke-width="1.08" />
<line x1="279.50" y1="666.30" x2="279.50" y2="692.30" stroke="#161616" stroke-width="1.08" />
<circle cx="525.00" cy="679.30" r="5.00" stroke="#161616" stroke-width="1.80" fill="none"/>
<line x1="512.00" y1="679.30" x2="538.00" y2="679.30" stroke="#161616" stroke-width="1.08" />
<line x1="525.00" y1="666.30" x2="525.00" y2="692.30" stroke="#161616" stroke-width="1.08" />
<line x1="324.60" y1="486.00" x2="324.60" y2="503.00" stroke="#161616" stroke-width="1.08" />
<line x1="326.20" y1="487.00" x2="326.20" y2="502.00" stroke="#161616" stroke-width="0.84" />
<line x1="479.80" y1="486.00" x2="479.80" y2="503.00" stroke="#161616" stroke-width="1.08" />
<line x1="478.20" y1="487.00" x2="478.20" y2="502.00" stroke="#161616" stroke-width="0.84" />
<line x1="402.00" y1="488.00" x2="402.00" y2="497.00" stroke="#161616" stroke-width="0.96" />
<line x1="341.80" y1="496.60" x2="462.80" y2="496.60" stroke="#161616" stroke-width="1.20" />
<path d="M304.96,527.52 A108.30,108.30 0 0 0 307.58,627.50" stroke="#161616" stroke-width="1.32" fill="none" />
<path d="M335.62,660.34 A108.30,108.30 0 0 0 468.98,660.34" stroke="#161616" stroke-width="1.32" fill="none" />
<path d="M497.02,627.50 A108.30,108.30 0 0 0 499.64,527.52" stroke="#161616" stroke-width="1.32" fill="none" />
<path d="M307.75,528.88 A105.20,105.20 0 0 0 337.53,657.90" stroke="#161616" stroke-width="1.80" fill="none" />
<path d="M337.53,657.90 A105.20,105.20 0 0 0 467.07,657.90" stroke="#161616" stroke-width="1.80" fill="none" />
<path d="M467.07,657.90 A105.20,105.20 0 0 0 496.85,528.88" stroke="#161616" stroke-width="1.80" fill="none" />
<path d="M330.60,502.03 A102.30,102.30 0 1 0 474.00,502.03" stroke="#161616" stroke-width="1.32" fill="none" />
<path d="M332.42,502.63 A100.60,100.60 0 0 0 311.88,530.90" stroke="#161616" stroke-width="0.96" fill="none" />
<path d="M472.18,502.63 A100.60,100.60 0 0 1 492.72,530.90" stroke="#161616" stroke-width="0.96" fill="none" />
<path d="M342.64,503.40 A93.20,93.20 0 1 0 461.96,503.40" stroke="#161616" stroke-width="1.20" fill="none" />
<path d="M348.39,507.23 A86.60,86.60 0 1 0 456.21,507.23" stroke="#161616" stroke-width="2.40" fill="none" />
<path d="M349.92,509.85 A83.60,83.60 0 1 0 454.68,509.85" stroke="#161616" stroke-width="1.44" fill="none" />
<path d="M355.78,512.14 A78.20,78.20 0 1 0 448.82,512.14" stroke="#161616" stroke-width="1.20" fill="none" />
<path d="M339.47,537.25 A73.30,73.30 0 0 1 465.13,537.25" stroke="#161616" stroke-width="1.08" fill="none" />
<path d="M342.30,538.95 A70.00,70.00 0 0 1 462.30,538.95" stroke="#161616" stroke-width="1.62" fill="none" />
<path d="M345.21,540.70 A66.60,66.60 0 0 1 459.39,540.70" stroke="#161616" stroke-width="2.40" fill="none" />
<path d="M465.13,612.75 A73.30,73.30 0 0 1 339.47,612.75" stroke="#161616" stroke-width="1.08" fill="none" />
<path d="M462.30,611.05 A70.00,70.00 0 0 1 342.30,611.05" stroke="#161616" stroke-width="1.62" fill="none" />
<path d="M459.39,609.30 A66.60,66.60 0 0 1 345.21,609.30" stroke="#161616" stroke-width="2.40" fill="none" />
<circle cx="402.30" cy="575.00" r="64.20" stroke="#161616" stroke-width="1.08" fill="none"/>
<circle cx="402.30" cy="575.00" r="61.80" stroke="#161616" stroke-width="1.56" fill="none"/>
<line x1="313.41" y1="546.97" x2="304.73" y2="544.24" stroke="#161616" stroke-width="0.96" />
<line x1="491.14" y1="603.18" x2="499.81" y2="605.93" stroke="#161616" stroke-width="0.96" />
<line x1="372.94" y1="638.54" x2="369.50" y2="645.99" stroke="#161616" stroke-width="0.96" />
<line x1="402.30" y1="677.30" x2="402.30" y2="683.30" stroke="#161616" stroke-width="0.96" />
<path d="M500,528 C508,548 511.5,575 510.5,600" stroke="#161616" stroke-width="0.84" fill="none" />
<g>
<path d="M329.8,501.5 L335,495.9 C336.5,494.8 338.8,494.8 340.3,496.3 L344.8,500.8 C346.5,502.3 348.5,503 350,503 L352.3,501.5 L356.8,502.3 L356.8,511.6 L353,509 L350.8,504.5" stroke="#161616" stroke-width="1.32" fill="none" />
<path d="M332,503 L336.2,498 C337.2,497.2 338.4,497.2 339.4,498.2 L343.6,502.6" stroke="#161616" stroke-width="0.96" fill="none" />
<path d="M352.3,501.5 L353.4,505.5 L356.8,511.6" stroke="#161616" stroke-width="0.96" fill="none" />
<line x1="356.80" y1="502.90" x2="393.50" y2="502.90" stroke="#161616" stroke-width="0.96" />
<line x1="371.00" y1="496.60" x2="371.60" y2="502.50" stroke="#161616" stroke-width="0.84" />
</g>
<g transform="translate(804.6,0) scale(-1,1)">
<path d="M329.8,501.5 L335,495.9 C336.5,494.8 338.8,494.8 340.3,496.3 L344.8,500.8 C346.5,502.3 348.5,503 350,503 L352.3,501.5 L356.8,502.3 L356.8,511.6 L353,509 L350.8,504.5" stroke="#161616" stroke-width="1.32" fill="none" />
<path d="M332,503 L336.2,498 C337.2,497.2 338.4,497.2 339.4,498.2 L343.6,502.6" stroke="#161616" stroke-width="0.96" fill="none" />
<path d="M352.3,501.5 L353.4,505.5 L356.8,511.6" stroke="#161616" stroke-width="0.96" fill="none" />
<line x1="356.80" y1="502.90" x2="393.50" y2="502.90" stroke="#161616" stroke-width="0.96" />
<line x1="371.00" y1="496.60" x2="371.60" y2="502.50" stroke="#161616" stroke-width="0.84" />
</g>
<line x1="332.50" y1="547.00" x2="332.50" y2="603.00" stroke="#161616" stroke-width="0.96" />
<line x1="334.70" y1="547.00" x2="334.70" y2="603.00" stroke="#161616" stroke-width="0.96" />
<line x1="337.50" y1="547.00" x2="337.50" y2="603.00" stroke="#161616" stroke-width="0.96" />
<rect x="330.90" y="560.80" width="4.40" height="28.60" rx="2" stroke="#161616" stroke-width="0.96" fill="#444"/>
<line x1="472.10" y1="547.00" x2="472.10" y2="603.00" stroke="#161616" stroke-width="0.96" />
<line x1="469.90" y1="547.00" x2="469.90" y2="603.00" stroke="#161616" stroke-width="0.96" />
<line x1="467.10" y1="547.00" x2="467.10" y2="603.00" stroke="#161616" stroke-width="0.96" />
<rect x="469.30" y="560.80" width="4.40" height="28.60" rx="2" stroke="#161616" stroke-width="0.96" fill="#444"/>
<g transform="translate(402.30,647.25) rotate(180.00)">
<path d="M-5.0,8.25 L-6.5,-4.25 C-6.5,-9.75 6.5,-9.75 6.5,-4.25 L5.0,8.25 Z" stroke="#161616" stroke-width="1.3" fill="#fff"/>
<line x1="-4.16" y1="-7.75" x2="-3.20" y2="8.25" stroke="#161616" stroke-width="0.8"/>
<line x1="0.00" y1="-7.75" x2="0.00" y2="8.25" stroke="#161616" stroke-width="0.8"/>
<line x1="4.16" y1="-7.75" x2="3.20" y2="8.25" stroke="#161616" stroke-width="0.8"/>
<path d="M-6.5,-4.25 C-3.25,-2.25 3.25,-2.25 6.5,-4.25" stroke="#161616" stroke-width="0.8" fill="none"/>
</g>
<path d="M393.6,506 L393.6,501.5 C393.6,495.6 411.0,495.6 411.0,501.5 L411.0,506" stroke="#161616" stroke-width="1.44" fill="#fff" />
<path d="M395.7,504.5 C395.90000000000003,499 408.7,499 408.90000000000003,504.5" stroke="#161616" stroke-width="0.96" fill="none" />
<path d="M397.1,511.6 L396.7,503 C396.7,499.6 407.90000000000003,499.6 407.90000000000003,503 L407.5,511.6 Z" stroke="#161616" stroke-width="1.44" fill="#fff" />
<line x1="400.30" y1="500.60" x2="400.20" y2="511.40" stroke="#161616" stroke-width="0.96" />
<line x1="402.30" y1="500.60" x2="402.30" y2="511.40" stroke="#161616" stroke-width="0.96" />
<line x1="404.30" y1="500.60" x2="404.40" y2="511.40" stroke="#161616" stroke-width="0.96" />
<g transform="translate(340.82,538.50) rotate(300.70)">
<path d="M-4.25,9.5 L-5.75,-5.5 C-5.75,-11.0 5.75,-11.0 5.75,-5.5 L4.25,9.5 Z" stroke="#161616" stroke-width="1.3" fill="#fff"/>
<line x1="-3.68" y1="-9.0" x2="-2.72" y2="9.5" stroke="#161616" stroke-width="0.8"/>
<line x1="0.00" y1="-9.0" x2="0.00" y2="9.5" stroke="#161616" stroke-width="0.8"/>
<line x1="3.68" y1="-9.0" x2="2.72" y2="9.5" stroke="#161616" stroke-width="0.8"/>
<path d="M-5.75,-5.5 C-2.875,-3.5 2.875,-3.5 5.75,-5.5" stroke="#161616" stroke-width="0.8" fill="none"/>
</g>
<g transform="translate(463.78,538.50) rotate(419.30)">
<path d="M-4.25,9.5 L-5.75,-5.5 C-5.75,-11.0 5.75,-11.0 5.75,-5.5 L4.25,9.5 Z" stroke="#161616" stroke-width="1.3" fill="#fff"/>
<line x1="-3.68" y1="-9.0" x2="-2.72" y2="9.5" stroke="#161616" stroke-width="0.8"/>
<line x1="0.00" y1="-9.0" x2="0.00" y2="9.5" stroke="#161616" stroke-width="0.8"/>
<line x1="3.68" y1="-9.0" x2="2.72" y2="9.5" stroke="#161616" stroke-width="0.8"/>
<path d="M-5.75,-5.5 C-2.875,-3.5 2.875,-3.5 5.75,-5.5" stroke="#161616" stroke-width="0.8" fill="none"/>
</g>
<g transform="translate(340.82,611.50) rotate(239.30)">
<path d="M-4.25,9.5 L-5.75,-5.5 C-5.75,-11.0 5.75,-11.0 5.75,-5.5 L4.25,9.5 Z" stroke="#161616" stroke-width="1.3" fill="#fff"/>
<line x1="-3.68" y1="-9.0" x2="-2.72" y2="9.5" stroke="#161616" stroke-width="0.8"/>
<line x1="0.00" y1="-9.0" x2="0.00" y2="9.5" stroke="#161616" stroke-width="0.8"/>
<line x1="3.68" y1="-9.0" x2="2.72" y2="9.5" stroke="#161616" stroke-width="0.8"/>
<path d="M-5.75,-5.5 C-2.875,-3.5 2.875,-3.5 5.75,-5.5" stroke="#161616" stroke-width="0.8" fill="none"/>
</g>
<g transform="translate(463.78,611.50) rotate(120.70)">
<path d="M-4.25,9.5 L-5.75,-5.5 C-5.75,-11.0 5.75,-11.0 5.75,-5.5 L4.25,9.5 Z" stroke="#161616" stroke-width="1.3" fill="#fff"/>
<line x1="-3.68" y1="-9.0" x2="-2.72" y2="9.5" stroke="#161616" stroke-width="0.8"/>
<line x1="0.00" y1="-9.0" x2="0.00" y2="9.5" stroke="#161616" stroke-width="0.8"/>
<line x1="3.68" y1="-9.0" x2="2.72" y2="9.5" stroke="#161616" stroke-width="0.8"/>
<path d="M-5.75,-5.5 C-2.875,-3.5 2.875,-3.5 5.75,-5.5" stroke="#161616" stroke-width="0.8" fill="none"/>
</g>
<circle cx="418.70" cy="531.00" r="16.20" stroke="#161616" stroke-width="2.28" fill="#fff"/>
<circle cx="418.70" cy="531.00" r="13.50" stroke="#161616" stroke-width="1.08" fill="none"/>
<circle cx="418.70" cy="531.00" r="12.00" stroke="#161616" stroke-width="1.08" fill="none"/>
<polygon points="418.70,523.30 425.37,527.15 425.37,534.85 418.70,538.70 412.03,534.85 412.03,527.15" fill="none" stroke="#161616" stroke-width="1.85"/>
<line x1="418.70" y1="524.00" x2="418.70" y2="538.00" stroke="#161616" stroke-width="1.20" />
<line x1="418.70" y1="519.00" x2="418.70" y2="517.40" stroke="#161616" stroke-width="1.08" />
<line x1="418.70" y1="543.00" x2="418.70" y2="544.60" stroke="#161616" stroke-width="1.08" />
<path d="M424.43,536.02 L427.23,538.82 M427.23,536.02 L424.43,538.82" stroke="#161616" stroke-width="1.2" fill="none"/>
<path d="M420.90,538.50 L423.70,541.30 M423.70,538.50 L420.90,541.30" stroke="#161616" stroke-width="1.2" fill="none"/>
<circle cx="358.20" cy="559.20" r="16.20" stroke="#161616" stroke-width="2.28" fill="#fff"/>
<circle cx="358.20" cy="559.20" r="13.50" stroke="#161616" stroke-width="1.08" fill="none"/>
<circle cx="358.20" cy="559.20" r="12.00" stroke="#161616" stroke-width="1.08" fill="none"/>
<polygon points="365.52,556.82 363.92,564.35 356.60,566.73 350.88,561.58 352.48,554.05 359.80,551.67" fill="none" stroke="#161616" stroke-width="1.85"/>
<line x1="364.86" y1="557.04" x2="351.54" y2="561.36" stroke="#161616" stroke-width="1.20" />
<line x1="369.61" y1="555.49" x2="371.13" y2="555.00" stroke="#161616" stroke-width="1.08" />
<line x1="346.79" y1="562.91" x2="345.27" y2="563.40" stroke="#161616" stroke-width="1.08" />
<path d="M352.90,566.57 L355.70,569.37 M355.70,566.57 L352.90,569.37" stroke="#161616" stroke-width="1.2" fill="none"/>
<path d="M349.45,563.97 L352.25,566.77 M352.25,563.97 L349.45,566.77" stroke="#161616" stroke-width="1.2" fill="none"/>
<circle cx="447.00" cy="591.00" r="16.20" stroke="#161616" stroke-width="2.28" fill="#fff"/>
<circle cx="447.00" cy="591.00" r="13.50" stroke="#161616" stroke-width="1.08" fill="none"/>
<circle cx="447.00" cy="591.00" r="12.00" stroke="#161616" stroke-width="1.08" fill="none"/>
<polygon points="447.00,583.30 453.67,587.15 453.67,594.85 447.00,598.70 440.33,594.85 440.33,587.15" fill="none" stroke="#161616" stroke-width="1.85"/>
<line x1="447.00" y1="584.00" x2="447.00" y2="598.00" stroke="#161616" stroke-width="1.20" />
<line x1="447.00" y1="579.00" x2="447.00" y2="577.40" stroke="#161616" stroke-width="1.08" />
<line x1="447.00" y1="603.00" x2="447.00" y2="604.60" stroke="#161616" stroke-width="1.08" />
<path d="M452.73,596.02 L455.53,598.82 M455.53,596.02 L452.73,598.82" stroke="#161616" stroke-width="1.2" fill="none"/>
<path d="M449.20,598.50 L452.00,601.30 M452.00,598.50 L449.20,601.30" stroke="#161616" stroke-width="1.2" fill="none"/>
<circle cx="385.00" cy="618.00" r="16.20" stroke="#161616" stroke-width="2.28" fill="#fff"/>
<circle cx="385.00" cy="618.00" r="13.50" stroke="#161616" stroke-width="1.08" fill="none"/>
<circle cx="385.00" cy="618.00" r="12.00" stroke="#161616" stroke-width="1.08" fill="none"/>
<polygon points="385.00,610.30 391.67,614.15 391.67,621.85 385.00,625.70 378.33,621.85 378.33,614.15" fill="none" stroke="#161616" stroke-width="1.85"/>
<line x1="385.00" y1="611.00" x2="385.00" y2="625.00" stroke="#161616" stroke-width="1.20" />
<line x1="385.00" y1="606.00" x2="385.00" y2="604.40" stroke="#161616" stroke-width="1.08" />
<line x1="385.00" y1="630.00" x2="385.00" y2="631.60" stroke="#161616" stroke-width="1.08" />
<path d="M390.73,623.02 L393.53,625.82 M393.53,623.02 L390.73,625.82" stroke="#161616" stroke-width="1.2" fill="none"/>
<path d="M387.20,625.50 L390.00,628.30 M390.00,625.50 L387.20,628.30" stroke="#161616" stroke-width="1.2" fill="none"/>
<circle cx="402.30" cy="575.00" r="17.60" stroke="#161616" stroke-width="1.20" fill="#fff"/>
<circle cx="402.30" cy="575.00" r="15.90" stroke="#161616" stroke-width="1.14" fill="none"/>
<circle cx="402.30" cy="575.00" r="14.20" stroke="#161616" stroke-width="1.14" fill="none"/>
<circle cx="402.30" cy="575.00" r="8.10" stroke="#161616" stroke-width="1.32" fill="none"/>
<circle cx="402.30" cy="575.00" r="6.70" stroke="#161616" stroke-width="1.20" fill="none"/>
<circle cx="402.30" cy="575.00" r="5.00" stroke="#161616" stroke-width="1.32" fill="none"/>
<path d="M296,544.6 L288,544.6 C286,544.6 285.6,545.5 285.6,547 L285.6,549 C285.6,550.5 286.5,551 288,551 L291,551 L291,557.6 L288,557.6 C286,557.6 285.6,558.5 285.6,560 L285.6,562 C285.6,563.8 286.5,564.4 288,564.4 L295,564.4" stroke="#161616" stroke-width="1.50" fill="none" />
<path d="M296.8,599.5 L293.8,601.5 L293.8,616 L304,616" stroke="#161616" stroke-width="1.56" fill="none" />
<line x1="154.60" y1="400.00" x2="154.60" y2="546.00" stroke="#161616" stroke-width="1.08" />
<line x1="266.50" y1="408.00" x2="266.50" y2="546.00" stroke="#161616" stroke-width="1.08" />
<line x1="108.00" y1="533.70" x2="314.00" y2="533.70" stroke="#161616" stroke-width="1.20" />
<polygon points="154.60,533.70 132.60,537.40 132.60,530.00" fill="#000"/>
<polygon points="266.50,533.70 288.50,530.00 288.50,537.40" fill="#000"/>
<g filter="url(#gs)"><text transform="translate(210.30,530.00) scale(0.96,1)" x="0" y="0" font-size="20.5" text-anchor="middle" fill="#111">35. 5</text></g>
<line x1="279.00" y1="692.00" x2="279.00" y2="783.00" stroke="#161616" stroke-width="1.08" />
<line x1="525.00" y1="692.00" x2="525.00" y2="783.00" stroke="#161616" stroke-width="1.08" />
<line x1="279.00" y1="770.30" x2="525.00" y2="770.30" stroke="#161616" stroke-width="1.20" />
<polygon points="279.00,770.30 301.00,766.60 301.00,774.00" fill="#000"/>
<polygon points="525.00,770.30 503.00,774.00 503.00,766.60" fill="#000"/>
<g filter="url(#gs)"><text transform="translate(407.00,765.50) scale(0.93,1)" x="0" y="0" font-size="20.5" text-anchor="middle" fill="#111">78</text></g>
<line x1="538.00" y1="471.30" x2="648.00" y2="471.30" stroke="#161616" stroke-width="1.08" />
<line x1="538.00" y1="679.30" x2="648.00" y2="679.30" stroke="#161616" stroke-width="1.08" />
<line x1="634.70" y1="471.30" x2="634.70" y2="679.30" stroke="#161616" stroke-width="1.20" />
<polygon points="634.70,471.30 638.40,493.30 631.00,493.30" fill="#000"/>
<polygon points="634.70,679.30 631.00,657.30 638.40,657.30" fill="#000"/>
<g filter="url(#gs)"><text transform="translate(631.00,567.00) rotate(-90) scale(0.93,1)" x="0" y="0" font-size="20.5" text-anchor="middle" fill="#111">66</text></g>
</svg>
</body></html>
